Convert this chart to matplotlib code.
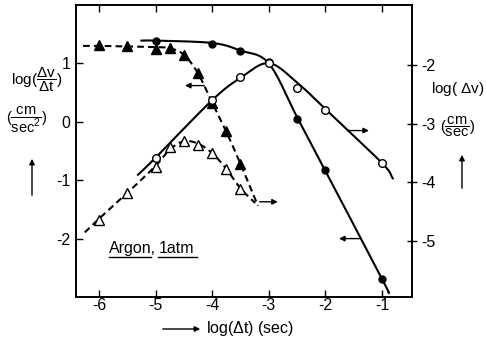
import numpy as np
import matplotlib
matplotlib.use("Agg")
import matplotlib.pyplot as plt
from matplotlib.lines import Line2D
from matplotlib.patches import FancyArrowPatch

plt.rcParams['font.family'] = ['Liberation Sans', 'DejaVu Sans']
plt.rcParams['mathtext.fontset'] = 'custom'
plt.rcParams['mathtext.rm'] = 'Liberation Sans'
plt.rcParams['mathtext.it'] = 'Liberation Sans:italic'
plt.rcParams['axes.unicode_minus'] = False

# ---------------- data ----------------
# filled triangles: log(dv/dt) on left axis
ft_x = [-6.0, -5.5, -5.0, -4.75, -4.5, -4.25, -4.0, -3.75, -3.5]
ft_y = [1.31, 1.29, 1.24, 1.27, 1.15, 0.83, 0.33, -0.15, -0.72]
ft_curve_x = [-6.28, -6.0, -5.5, -5.0, -4.75, -4.5, -4.25, -4.0, -3.75, -3.5, -3.19]
ft_curve_y = [1.30, 1.30, 1.29, 1.28, 1.26, 1.15, 0.83, 0.33, -0.17, -0.72, -1.44]

# open triangles: log(dv) on right axis
ot_x = [-6.0, -5.5, -5.0, -4.75, -4.5, -4.25, -4.0, -3.75, -3.5]
ot_y = [-4.64, -4.18, -3.74, -3.40, -3.29, -3.36, -3.50, -3.77, -4.11]
ot_curve_x = [-6.25, -6.0, -5.5, -5.0, -4.75, -4.5, -4.25, -4.0, -3.75, -3.5, -3.24]
ot_curve_y = [-4.85, -4.62, -4.18, -3.72, -3.44, -3.30, -3.34, -3.50, -3.77, -4.10, -4.35]

# filled circles: log(dv/dt) on left axis
fc_x = [-5.0, -4.0, -3.5, -3.0, -2.5, -2.0, -1.0]
fc_y = [1.39, 1.34, 1.22, 1.02, 0.05, -0.82, -2.69]
fc_curve_x = [-5.25, -5.0, -4.0, -3.5, -3.0, -2.5, -2.0, -1.0, -0.88]
fc_curve_y = [1.39, 1.39, 1.35, 1.22, 1.00, 0.08, -0.84, -2.69, -2.93]

# open circles: log(dv) on right axis
oc_x = [-5.0, -4.0, -3.5, -3.0, -2.5, -2.0, -1.0]
oc_y = [-3.58, -2.60, -2.20, -1.97, -2.39, -2.77, -3.67]
oc_curve_x = [-5.31, -5.0, -4.0, -3.5, -3.0, -2.5, -2.0, -1.0, -0.81]
oc_curve_y = [-3.87, -3.58, -2.60, -2.22, -1.97, -2.30, -2.75, -3.67, -3.93]

x_ticks = [-6, -5, -4, -3, -2, -1]
left_ticks = [1, 0, -1, -2]
right_ticks = [-2, -3, -4, -5]


def smooth(xs, ys, n=30):
    pts = np.column_stack([xs, ys]).astype(float)
    P = np.vstack([2 * pts[0] - pts[1], pts, 2 * pts[-1] - pts[-2]])
    out = []
    t = np.linspace(0, 1, n, endpoint=False)[:, None]
    for i in range(1, len(P) - 2):
        p0, p1, p2, p3 = P[i - 1], P[i], P[i + 1], P[i + 2]
        seg = 0.5 * ((2 * p1) + (-p0 + p2) * t + (2 * p0 - 5 * p1 + 4 * p2 - p3) * t ** 2
                     + (-p0 + 3 * p1 - 3 * p2 + p3) * t ** 3)
        out.append(seg)
    out.append(P[-2][None])
    s = np.vstack(out)
    return s[:, 0], s[:, 1]


W, H = 486, 341
fig = plt.figure(figsize=(W / 100, H / 100), dpi=100)
ax = fig.add_axes([75.7 / W, 44 / H, (412 - 75.7) / W, 292 / H])
ax2 = ax.twinx()

ax.set_xlim(-6.41, -0.47)
ax.set_ylim(-3.0, 2.0)
ax2.set_ylim(-5.95, -0.98)

dash = (0, (3.2, 2.0))
lwl = 1.5

# filled triangle
sx, sy = smooth(ft_curve_x, ft_curve_y)
ax.plot(sx, sy, color='k', lw=lwl, ls=dash, zorder=2)
ax.plot(ft_x, ft_y, ls='none', marker='^', ms=6.5, mfc='k', mec='k', zorder=4)

# open triangle
sx, sy = smooth(ot_curve_x, ot_curve_y)
ax2.plot(sx, sy, color='k', lw=lwl, ls=dash, zorder=2)
ax2.plot(ot_x, ot_y, ls='none', marker='^', ms=6.5, mfc='white', mec='k', mew=1.0, zorder=4)

# filled circles
sx, sy = smooth(fc_curve_x, fc_curve_y)
ax.plot(sx, sy, color='k', lw=lwl, zorder=2)
ax.plot(fc_x, fc_y, ls='none', marker='o', ms=5, mfc='k', mec='k', zorder=4)

# open circles
sx, sy = smooth(oc_curve_x, oc_curve_y)
ax2.plot(sx, sy, color='k', lw=lwl, zorder=2)
ax2.plot(oc_x, oc_y, ls='none', marker='o', ms=5.5, mfc='white', mec='k', mew=1.0, zorder=4)

# arrows indicating axes
ap = dict(arrowstyle='-|>', lw=1.0, color='k', mutation_scale=8, shrinkA=0, shrinkB=0)
ax.annotate('', xy=(-4.48, 0.62), xytext=(-4.14, 0.62), arrowprops=ap)
ax.annotate('', xy=(-1.76, -2.0), xytext=(-1.38, -2.0), arrowprops=ap)
ax.annotate('', xy=(-1.23, -0.15), xytext=(-1.60, -0.15), arrowprops=ap)
ax.annotate('', xy=(-2.84, -1.37), xytext=(-3.16, -1.37), arrowprops=ap)

# ticks
for a in (ax, ax2):
    for s in a.spines.values():
        s.set_linewidth(1.2)
ax.set_xticks(x_ticks)
ax.set_xticklabels([str(v) for v in x_ticks])
ax.set_yticks(left_ticks)
ax.set_yticklabels([str(v) for v in left_ticks])
ax2.set_yticks(right_ticks)
ax2.set_yticklabels([str(v) for v in right_ticks])
ax.tick_params(axis='x', direction='in', length=5, width=1, top=True, labelsize=11.5, pad=1)
ax.tick_params(axis='y', direction='in', length=5, width=1, labelsize=11.5, pad=4)
ax2.tick_params(axis='y', direction='inout', length=7, width=1, labelsize=11.5, pad=3)

# Argon label with underlines
t1 = ax.text(-5.83, -2.17, 'Argon,', fontsize=11.5, va='center', ha='left')
fig.canvas.draw()
r = fig.canvas.get_renderer()
b1 = t1.get_window_extent(r)
inv = ax.transData.inverted()
x_end = inv.transform((b1.x1, b1.y0))[0]
t2 = ax.text(x_end + 0.05, -2.17, '1atm', fontsize=11.5, va='center', ha='left')
fig.canvas.draw()
b2 = t2.get_window_extent(r)
tf = fig.transFigure.inverted()
comma_w = 5
for (xa, xb, yb) in [(b1.x0, b1.x1 - comma_w, b1.y0), (b2.x0, b2.x1 + 3, b2.y0)]:
    p0 = tf.transform((xa, yb - 1))
    p1 = tf.transform((xb, yb - 1))
    fig.add_artist(Line2D([p0[0], p1[0]], [p0[1], p1[1]], color='k', lw=1.0))

# axis labels (figure pixel coordinates)
def fx(x):
    return x / W

def fy(y):
    return 1 - y / H

fig.text(fx(37), fy(80), r'$\mathrm{log}(\dfrac{\Delta \mathrm{v}}{\Delta \mathrm{t}})$', fontsize=11, ha='center', va='center')
fig.text(fx(27), fy(120), r'$(\dfrac{\mathrm{cm}}{\mathrm{sec}^2})$', fontsize=10.5, ha='center', va='center')
fig.add_artist(FancyArrowPatch((fx(32), fy(198)), (fx(32), fy(156)),
               transform=fig.transFigure, arrowstyle='-|>', mutation_scale=8, lw=1.0, color='k'))

fig.text(fx(458), fy(89), r'log( $\Delta$v)', fontsize=11, ha='center', va='center')
fig.text(fx(458), fy(127), r'$(\dfrac{\mathrm{cm}}{\mathrm{sec}})$', fontsize=10.5, ha='center', va='center')
fig.add_artist(FancyArrowPatch((fx(462), fy(191)), (fx(462), fy(152)),
               transform=fig.transFigure, arrowstyle='-|>', mutation_scale=8, lw=1.0, color='k'))

fig.add_artist(FancyArrowPatch((fx(160), fy(329)), (fx(203), fy(329)),
               transform=fig.transFigure, arrowstyle='-|>', mutation_scale=8, lw=1.0, color='k'))
fig.text(fx(206), fy(328), r'log($\Delta$t) (sec)', fontsize=11.5, ha='left', va='center')

fig.savefig('out.png', dpi=100)
